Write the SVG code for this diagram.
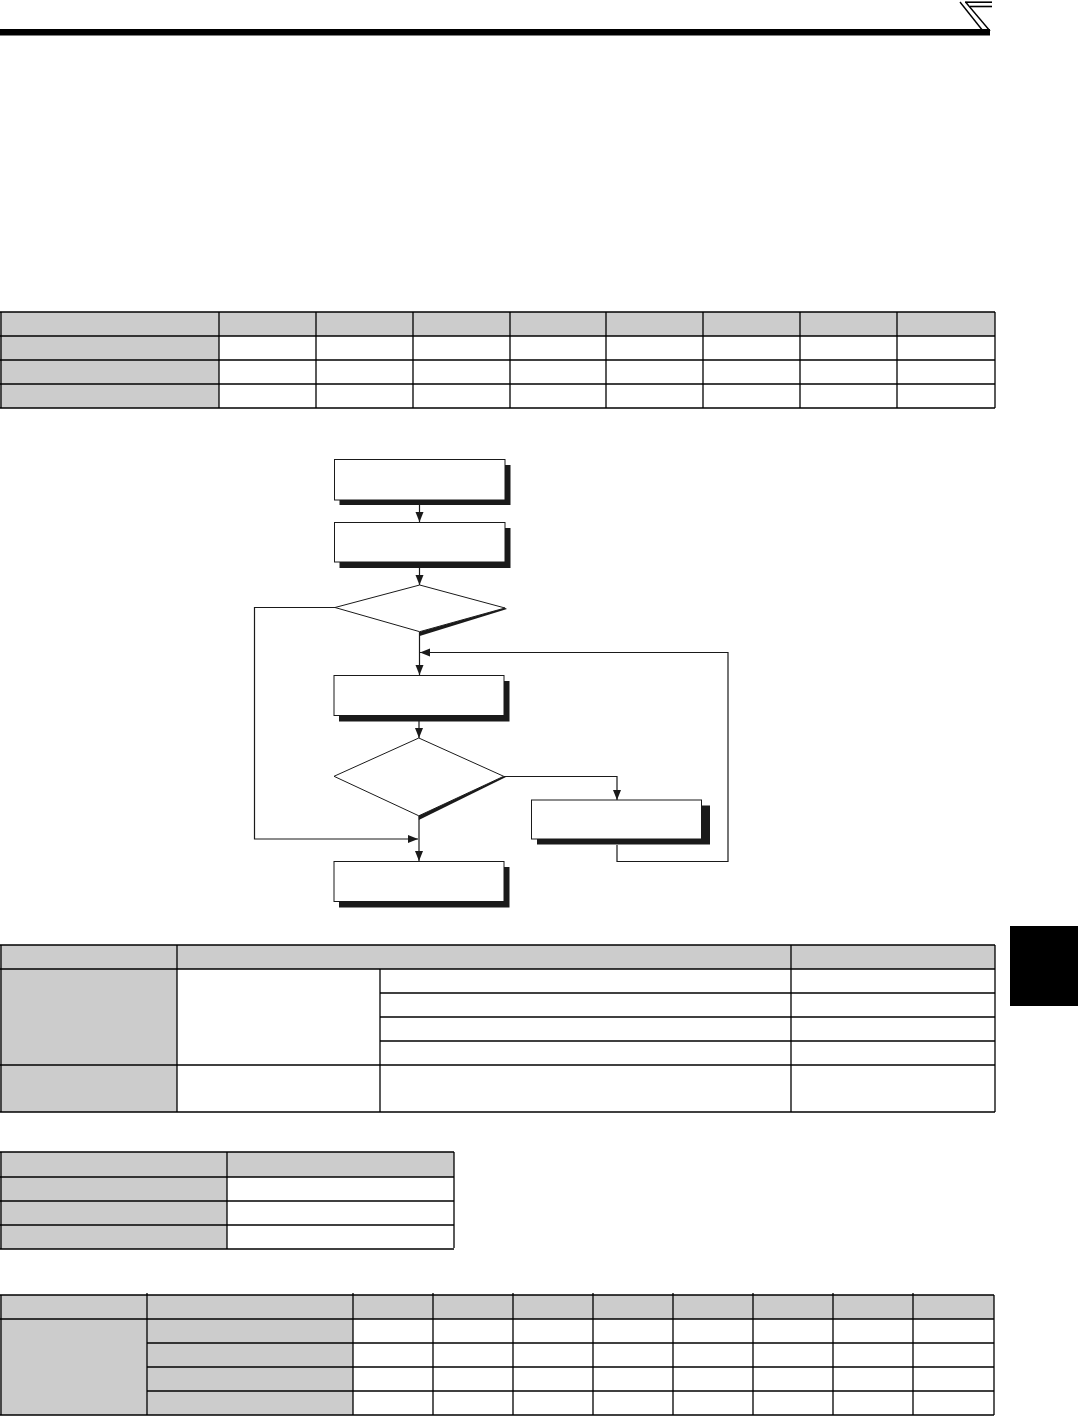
<svg xmlns="http://www.w3.org/2000/svg" width="1078" height="1416" viewBox="0 0 1078 1416">
<style>
.g{fill:#cccccc}
.t line{stroke:#000;stroke-width:1.3}
.box{fill:#fff;stroke:#1a1a1a;stroke-width:1}
.sh{fill:#1a1a1a}
.c{fill:none;stroke:#1a1a1a;stroke-width:1.2}
</style>
<defs>
<marker id="ah" markerUnits="userSpaceOnUse" markerWidth="10" markerHeight="10" viewBox="0 0 10 10" refX="10" refY="5" orient="auto">
<path d="M0,1 L10,5 L0,9 Z" fill="#1a1a1a"/>
</marker>
</defs>
<rect width="1078" height="1416" fill="#fff"/>
<g id="header">
<rect x="0" y="29" width="990" height="6.5" fill="#000"/>
<line x1="960" y1="2" x2="983" y2="31" stroke="#000" stroke-width="1.4"/>
<line x1="965.5" y1="2" x2="990" y2="31" stroke="#000" stroke-width="1.4"/>
<line x1="965" y1="2.2" x2="992" y2="2.2" stroke="#000" stroke-width="1.6"/>
<line x1="970" y1="6.5" x2="992" y2="6.5" stroke="#000" stroke-width="1.6"/>
</g>
<g id="table1" class="t">
<rect class="g" x="0" y="312" width="995" height="24"/>
<rect class="g" x="0" y="312" width="219" height="96"/>
<line x1="0" y1="312" x2="995" y2="312"/>
<line x1="0" y1="336" x2="995" y2="336"/>
<line x1="0" y1="360" x2="995" y2="360"/>
<line x1="0" y1="384" x2="995" y2="384"/>
<line x1="0" y1="408" x2="995" y2="408"/>
<line x1="1" y1="312" x2="1" y2="408"/>
<line x1="219" y1="312" x2="219" y2="408"/>
<line x1="316" y1="312" x2="316" y2="408"/>
<line x1="413" y1="312" x2="413" y2="408"/>
<line x1="510" y1="312" x2="510" y2="408"/>
<line x1="606" y1="312" x2="606" y2="408"/>
<line x1="703" y1="312" x2="703" y2="408"/>
<line x1="800" y1="312" x2="800" y2="408"/>
<line x1="897" y1="312" x2="897" y2="408"/>
<line x1="995" y1="312" x2="995" y2="408"/>
</g>
<g id="connectors">
<line class="c" x1="419.5" y1="500" x2="419.5" y2="522" marker-end="url(#ah)"/>
<line class="c" x1="419.5" y1="562" x2="419.5" y2="585" marker-end="url(#ah)"/>
<line class="c" x1="419.5" y1="632" x2="419.5" y2="675" marker-end="url(#ah)"/>
<polyline class="c" points="617,845 617,861.5 728,861.5 728,652.5 420,652.5" marker-end="url(#ah)"/>
<line class="c" x1="419" y1="715" x2="419" y2="738" marker-end="url(#ah)"/>
<polyline class="c" points="504,776.5 617,776.5 617,800" marker-end="url(#ah)"/>
<line class="c" x1="419" y1="816" x2="419" y2="861" marker-end="url(#ah)"/>
<polyline class="c" points="335,607.5 254.5,607.5 254.5,839 418,839" marker-end="url(#ah)"/>
</g>
<g id="n1"><rect class="sh" x="339.5" y="465" width="171" height="40"/><rect class="box" x="334.5" y="459.5" width="170.5" height="40.5"/></g>
<g id="n2"><rect class="sh" x="339.5" y="528" width="171" height="40"/><rect class="box" x="334.5" y="522.5" width="170.5" height="39.5"/></g>
<g id="d1"><polygon class="sh" points="505,607.8 419.7,631.7 419.7,636 507,609"/><polygon class="box" points="419.7,585 505,608 419.7,631.7 335,607.5"/></g>
<g id="n3"><rect class="sh" x="339" y="681" width="170.5" height="40.5"/><rect class="box" x="334" y="675.5" width="170" height="40"/></g>
<g id="d2"><polygon class="sh" points="503.7,776.3 418.8,815.8 418.8,820 506,777"/><polygon class="box" points="418.8,738 503.7,776.3 418.8,815.8 334,776.3"/></g>
<g id="n4"><rect class="sh" x="537" y="805.5" width="173" height="39"/><rect class="box" x="531.5" y="800" width="170" height="39"/></g>
<g id="n5"><rect class="sh" x="339" y="867" width="170.5" height="40.5"/><rect class="box" x="334" y="861.5" width="170" height="40"/></g>
<g id="table2" class="t">
<rect class="g" x="0" y="945" width="995" height="24"/>
<rect class="g" x="0" y="945" width="177" height="167"/>
<line x1="0" y1="945" x2="995" y2="945"/>
<line x1="0" y1="969" x2="995" y2="969"/>
<line x1="380" y1="993" x2="995" y2="993"/>
<line x1="380" y1="1017" x2="995" y2="1017"/>
<line x1="380" y1="1041" x2="995" y2="1041"/>
<line x1="0" y1="1065" x2="995" y2="1065"/>
<line x1="0" y1="1112" x2="995" y2="1112"/>
<line x1="1" y1="945" x2="1" y2="1112"/>
<line x1="177" y1="945" x2="177" y2="1112"/>
<line x1="380" y1="969" x2="380" y2="1112"/>
<line x1="791" y1="945" x2="791" y2="1112"/>
<line x1="995" y1="945" x2="995" y2="1112"/>
</g>
<rect id="tab" x="1010" y="926" width="68" height="80" fill="#000"/>
<g id="table3" class="t">
<rect class="g" x="0" y="1152" width="454" height="25"/>
<rect class="g" x="0" y="1152" width="227" height="97"/>
<line x1="0" y1="1152" x2="454" y2="1152"/>
<line x1="0" y1="1177" x2="454" y2="1177"/>
<line x1="0" y1="1201" x2="454" y2="1201"/>
<line x1="0" y1="1225" x2="454" y2="1225"/>
<line x1="0" y1="1249" x2="454" y2="1249"/>
<line x1="1" y1="1152" x2="1" y2="1249"/>
<line x1="227" y1="1152" x2="227" y2="1249"/>
<line x1="454" y1="1152" x2="454" y2="1248"/>
</g>
<g id="table4" class="t">
<rect class="g" x="0" y="1295" width="994" height="24"/>
<rect class="g" x="0" y="1295" width="353" height="120"/>
<line x1="0" y1="1295" x2="994" y2="1295"/>
<line x1="0" y1="1319" x2="994" y2="1319"/>
<line x1="147" y1="1343" x2="994" y2="1343"/>
<line x1="147" y1="1367" x2="994" y2="1367"/>
<line x1="147" y1="1391" x2="994" y2="1391"/>
<line x1="0" y1="1415" x2="994" y2="1415"/>
<line x1="1" y1="1295" x2="1" y2="1415"/>
<line x1="147" y1="1293" x2="147" y2="1415"/>
<line x1="353" y1="1293" x2="353" y2="1415"/>
<line x1="433" y1="1293" x2="433" y2="1415"/>
<line x1="513" y1="1293" x2="513" y2="1415"/>
<line x1="593" y1="1293" x2="593" y2="1415"/>
<line x1="673" y1="1293" x2="673" y2="1415"/>
<line x1="753" y1="1293" x2="753" y2="1415"/>
<line x1="833" y1="1293" x2="833" y2="1415"/>
<line x1="913" y1="1293" x2="913" y2="1415"/>
<line x1="994" y1="1295" x2="994" y2="1415"/>
</g>
</svg>
